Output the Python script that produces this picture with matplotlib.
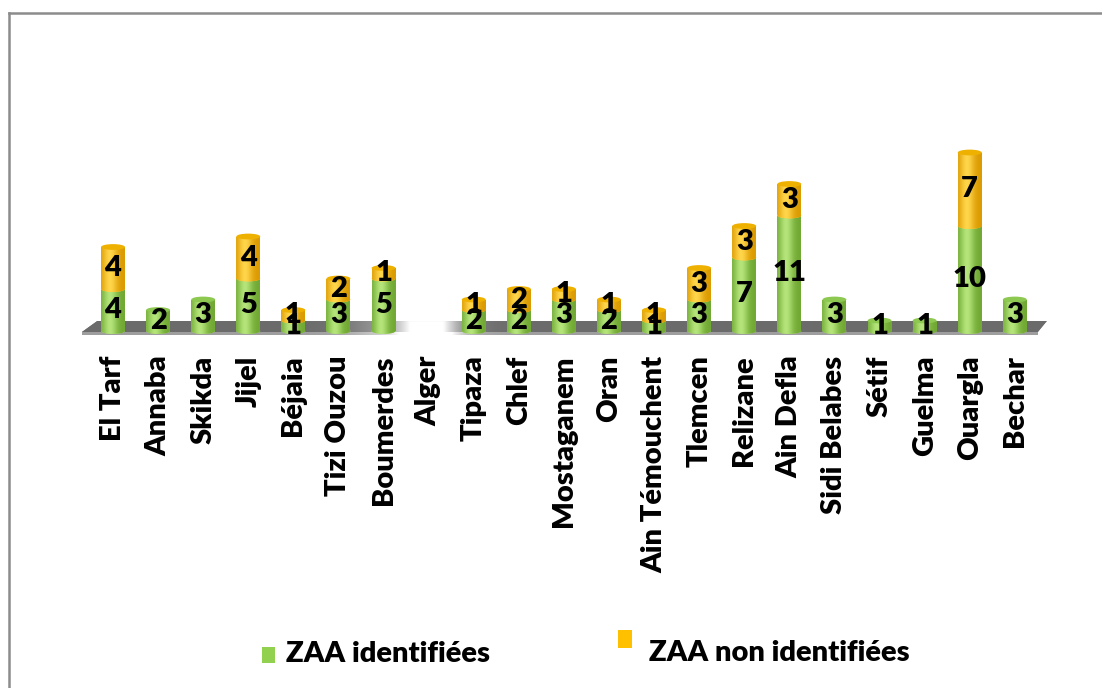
import matplotlib
matplotlib.use('Agg')
import matplotlib.pyplot as plt
import numpy as np
from matplotlib.patches import Ellipse, Polygon, Rectangle
from matplotlib.lines import Line2D
from matplotlib.colors import to_rgb

wilayas = ['El Tarf', 'Annaba', 'Skikda', 'Jijel', 'Béjaia', 'Tizi Ouzou', 'Boumerdes',
           'Alger', 'Tipaza', 'Chlef', 'Mostaganem', 'Oran', 'Ain Témouchent', 'Tlemcen',
           'Relizane', 'Ain Defla', 'Sidi Belabes', 'Sétif', 'Guelma', 'Ouargla', 'Bechar']
identifiees = [4, 2, 3, 5, 1, 3, 5, 0, 2, 2, 3, 2, 1, 3, 7, 11, 3, 1, 1, 10, 3]
non_identifiees = [4, 0, 0, 4, 1, 2, 1, 0, 1, 2, 1, 1, 1, 3, 3, 3, 0, 0, 0, 7, 0]
series_names = ['ZAA identifiées', 'ZAA non identifiées']

W, H = 1102, 688
plt.rcParams['font.family'] = ['Lato', 'DejaVu Sans']
FW = 'heavy'
fig = plt.figure(figsize=(W / 100, H / 100), dpi=100)
ax = fig.add_axes([67.9 / W, (H - 341.5) / H, 992 / W, 273 / H])

x = np.arange(len(wilayas))
bw = 0.53
eh = 0.55

green = dict(dark='#6FA832', light='#B4E47A', cap='#8DC850')
yellow = dict(dark='#DB9A00', light='#FFD54A', cap='#EFB100')


def hgrad(dark, light, n=80):
    t = np.linspace(0, 1, n)
    w = np.exp(-((t - 0.38) / 0.30) ** 2)
    cd = np.array(to_rgb(dark))
    cl = np.array(to_rgb(light))
    row = cd[None, :] * (1 - w[:, None]) + cl[None, :] * w[:, None]
    return row[None, :, :]


def draw_seg(xc, bottom, h, col, z, top_cap):
    grad = hgrad(col['dark'], col['light'])
    rect = ax.bar(xc, h, bottom=bottom, width=bw, color=col['light'], linewidth=0, zorder=z)[0]
    ell = Ellipse((xc, bottom), bw, eh, facecolor=col['light'], linewidth=0, zorder=z)
    ax.add_patch(ell)
    for p in (rect, ell):
        im = ax.imshow(grad, extent=[xc - bw / 2, xc + bw / 2, bottom - eh, bottom + h],
                       aspect='auto', zorder=z + 0.01, interpolation='bilinear')
        im.set_clip_path(p)
    if top_cap:
        cap = Ellipse((xc, bottom + h), bw, eh, facecolor=col['cap'], linewidth=0, zorder=z + 0.02)
        ax.add_patch(cap)


# floor
floor_top = Polygon([(-0.35, 0.95), (20.71, 0.95), (20.51, -0.1), (-0.69, -0.1)],
                    closed=True, facecolor='#777777', linewidth=0, zorder=1)
ax.add_patch(floor_top)
fx = np.linspace(-0.7, 20.8, 600)
g = 0.42 + 0.58 * np.exp(-((fx - 7.0) / 0.55) ** 2)
g = g + 0.25 * np.exp(-((fx - 6.6) / 1.2) ** 2)
g = np.clip(g, 0, 1)
img = np.repeat(np.stack([g, g, g], axis=-1)[None, :, :], 2, axis=0)
imf = ax.imshow(img, extent=[-0.7, 20.8, -0.1, 0.95], aspect='auto', zorder=1.01,
                interpolation='bilinear')
imf.set_clip_path(floor_top)
floor_front = Polygon([(-0.69, -0.1), (20.51, -0.1), (20.51, -0.35), (-0.69, -0.35)],
                      closed=True, facecolor='#A8A8A8', linewidth=0, zorder=1)
ax.add_patch(floor_front)
g2 = np.clip(g + 0.2, 0, 1)
img2 = np.repeat(np.stack([g2, g2, g2], axis=-1)[None, :, :], 2, axis=0)
imf2 = ax.imshow(img2, extent=[-0.7, 20.8, -0.35, -0.1], aspect='auto', zorder=1.01,
                 interpolation='bilinear')
imf2.set_clip_path(floor_front)

# bars
for i in range(len(wilayas)):
    gv = identifiees[i]
    yv = non_identifiees[i]
    z = 3 + i * 0.1
    if gv > 0:
        draw_seg(x[i], 0, gv, green, z, top_cap=(yv == 0))
    if yv > 0:
        draw_seg(x[i], gv, yv, yellow, z + 0.05, top_cap=True)

# labels
for i in range(len(wilayas)):
    gv = identifiees[i]
    yv = non_identifiees[i]
    if gv > 0:
        ax.text(x[i], gv / 2, str(gv), ha='center', va='center', fontsize=21,
                fontweight=FW, color='black', zorder=20)
    if yv > 0:
        ax.text(x[i], gv + yv / 2, str(yv), ha='center', va='center', fontsize=21,
                fontweight=FW, color='black', zorder=20)

ax.set_xlim(-1, 21)
ax.set_ylim(-1, 25)
ax.set_xticks(x)
ax.set_xticklabels(wilayas, rotation=90, fontsize=21, fontweight=FW)
ax.tick_params(axis='x', length=0, pad=10)
ax.set_yticks([])
for s in ax.spines.values():
    s.set_visible(False)
ax.patch.set_alpha(0)

# legend (manual)
def px(xp, yp):
    return xp / W, 1 - yp / H

fig.patches.append(Rectangle(px(262, 663), 13 / W, 16 / H, transform=fig.transFigure,
                             facecolor='#92D050', linewidth=0))
fig.text(*px(286, 662), series_names[0], fontsize=21, fontweight=FW, va='baseline', ha='left')
fig.patches.append(Rectangle(px(618, 648), 14 / W, 18 / H, transform=fig.transFigure,
                             facecolor='#FFC000', linewidth=0))
fig.text(*px(649, 661), series_names[1], fontsize=21, fontweight=FW, va='baseline', ha='left')

# outer border
fig.lines.append(Line2D([8.5 / W, 8.5 / W], [0, 1 - 13 / H], transform=fig.transFigure,
                        color='#8C8C8C', linewidth=1.8))
fig.lines.append(Line2D([8.5 / W, 1], [1 - 13 / H, 1 - 13 / H], transform=fig.transFigure,
                        color='#8C8C8C', linewidth=1.8))

fig.savefig('out.png', dpi=100)
